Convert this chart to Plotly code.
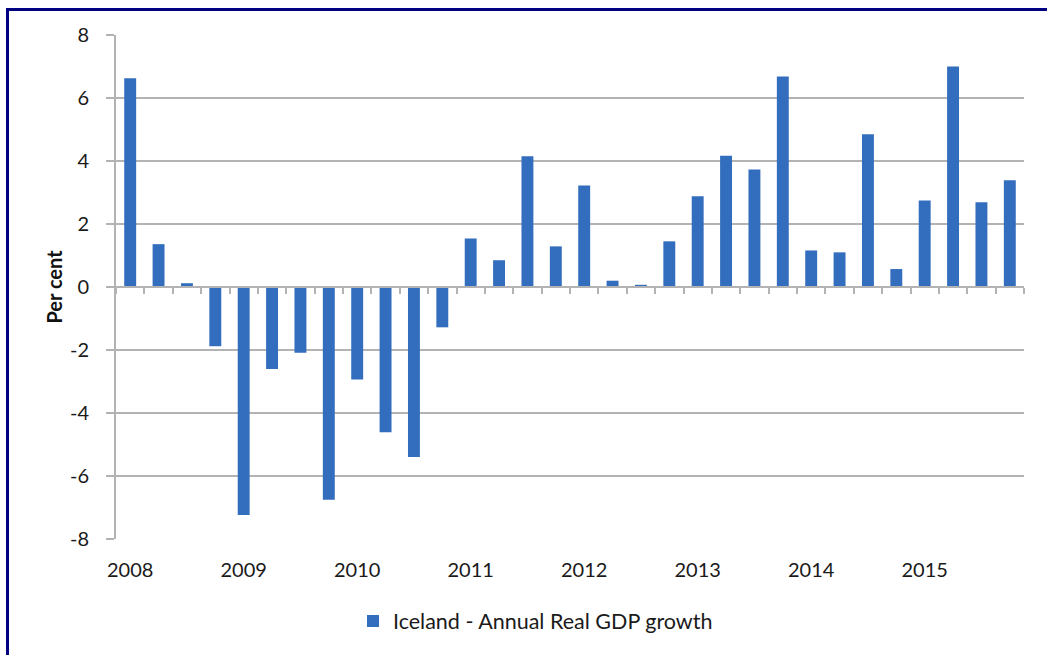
import plotly.graph_objects as go

# ---- data ----
quarters = [f"{y}Q{q}" for y in range(2008, 2016) for q in range(1, 5)]
growth = [6.63, 1.36, 0.12, -1.88,
          -7.24, -2.60, -2.09, -6.75,
          -2.94, -4.61, -5.40, -1.28,
          1.54, 0.85, 4.15, 1.29,
          3.22, 0.20, 0.07, 1.45,
          2.88, 4.17, 3.73, 6.68,
          1.16, 1.10, 4.85, 0.57,
          2.75, 7.00, 2.69, 3.39]
year_ticks = [q for q in quarters if q.endswith("Q1")]
year_labels = [q[:4] for q in year_ticks]
y_ticks = [-8, -6, -4, -2, 0, 2, 4, 6, 8]
y_labels = [str(v) for v in y_ticks]
series_name = "Iceland - Annual Real GDP growth"

# ---- layout geometry (pixels) ----
W, H = 1047, 655
L, R, T, B = 116, 23, 35, 116
pw, ph = W - L - R, H - T - B

def px_x(p):
    return (p - L) / pw

def px_y(p):
    return (H - B - p) / ph

FONT = "Lato, 'Open Sans', sans-serif"
GRID = "#b3b3b3"
BAR = "#336dbd"
NAVY = "#000080"
TXT = "#1a1a1a"

fig = go.Figure()
fig.add_trace(go.Bar(
    x=quarters, y=growth, name=series_name,
    marker=dict(color=BAR, line=dict(width=0)),
    showlegend=True,
))
# helper trace carrying the zero-line axis with boundary ticks
fig.add_trace(go.Bar(
    x=quarters, y=[None] * len(quarters), xaxis="x2",
    showlegend=False, hoverinfo="skip",
))

fig.update_layout(
    width=W, height=H,
    margin=dict(l=L, r=R, t=T, b=B, pad=0),
    paper_bgcolor="white", plot_bgcolor="white",
    bargap=0.58,
    font=dict(family=FONT, size=18, color=TXT),
    showlegend=True,
    legend=dict(
        orientation="h", x=0.462, xanchor="center",
        y=px_y(621), yanchor="middle",
        font=dict(family=FONT, size=21.5, color=TXT),
        itemsizing="constant", itemwidth=30,
    ),
    xaxis=dict(
        type="category", categoryorder="array", categoryarray=quarters,
        tickmode="array", tickvals=year_ticks, ticktext=year_labels,
        showgrid=False, showline=False, zeroline=False, ticks="",
        tickfont=dict(family=FONT, size=20, color=TXT),
        ticklabelstandoff=17,
    ),
    xaxis2=dict(
        type="category", categoryorder="array", categoryarray=quarters,
        overlaying="x", anchor="free", position=0.5, side="bottom",
        matches="x",
        showgrid=False, showticklabels=False, zeroline=False,
        showline=True, linecolor=GRID, linewidth=2,
        ticks="outside", tickson="boundaries", ticklen=6, tickwidth=1.5,
        tickcolor=GRID,
    ),
    yaxis=dict(
        range=[-8, 8], tickmode="array", tickvals=y_ticks, ticktext=y_labels,
        showgrid=True, gridcolor=GRID, gridwidth=2,
        zeroline=False, showline=True, linecolor=GRID, linewidth=2,
        ticks="outside", ticklen=8, tickwidth=2, tickcolor=GRID,
        tickfont=dict(family=FONT, size=20, color=TXT),
        ticklabelstandoff=13,
        title=dict(text="<b>Per cent</b>", standoff=2,
                   font=dict(family=FONT, size=20, color="#111111")),
    ),
    shapes=[
        dict(type="rect", xref="paper", yref="paper",
             x0=px_x(6), x1=px_x(W + 5), y0=px_y(11), y1=px_y(8),
             fillcolor=NAVY, line=dict(width=0), layer="above"),
        dict(type="rect", xref="paper", yref="paper",
             x0=px_x(6), x1=px_x(9), y0=px_y(H + 5), y1=px_y(8),
             fillcolor=NAVY, line=dict(width=0), layer="above"),
    ],
)

fig.write_html("out.html")
